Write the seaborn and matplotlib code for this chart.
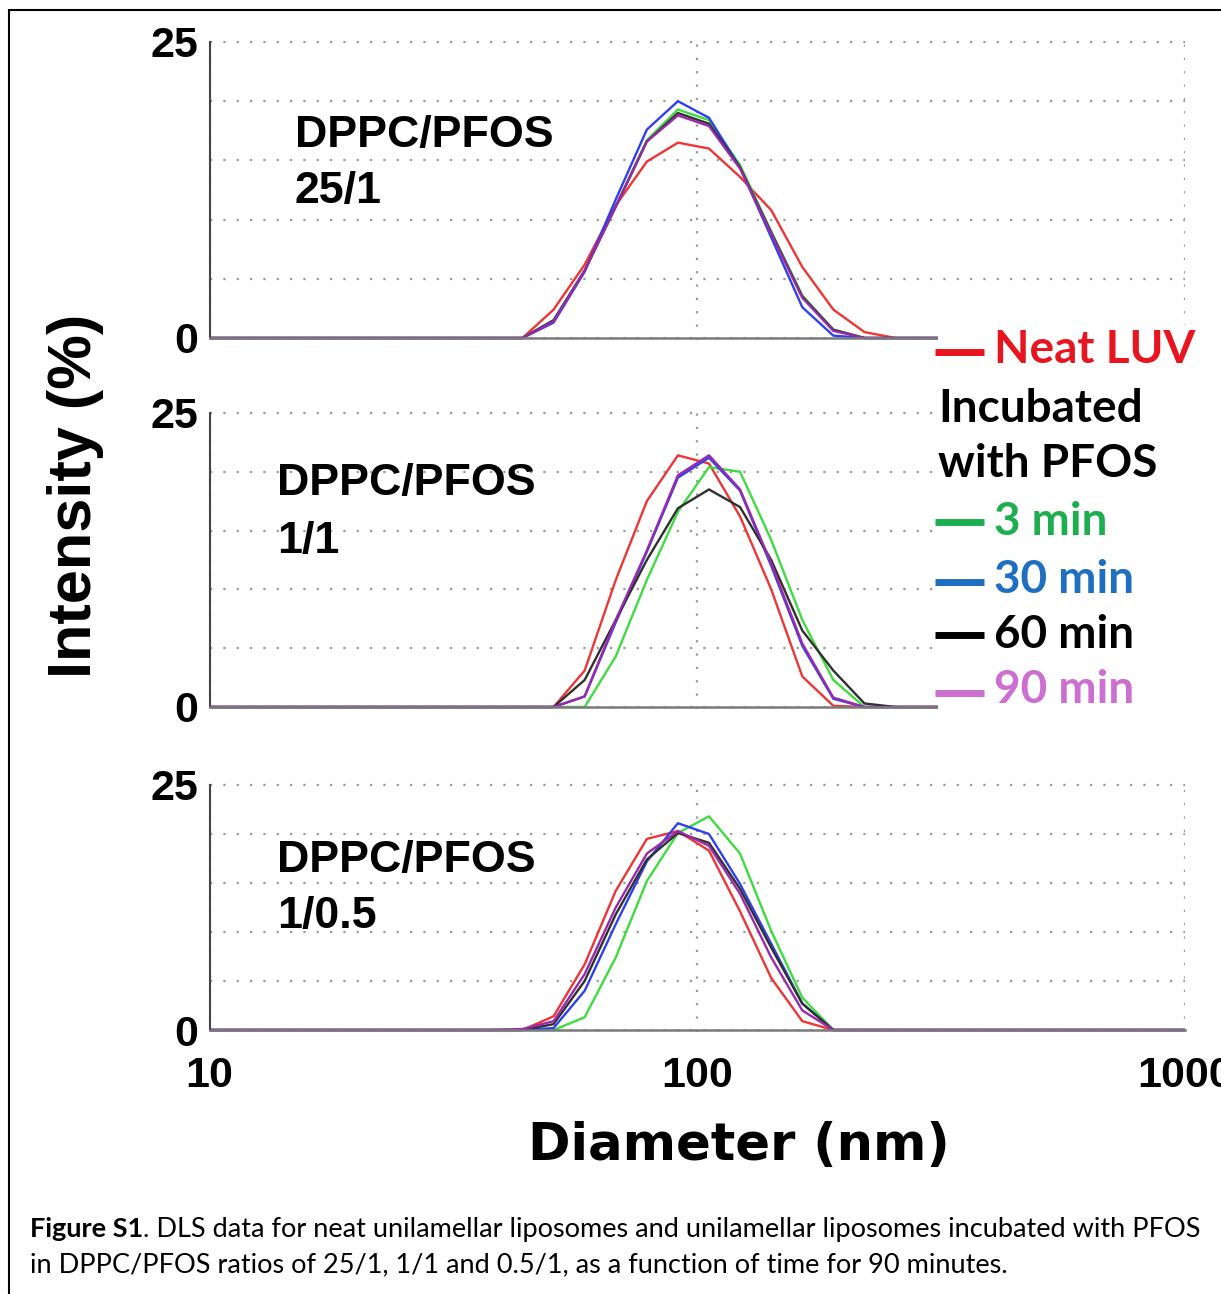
import numpy as np
import pandas as pd
import matplotlib
matplotlib.use("Agg")
import matplotlib.pyplot as plt
import seaborn as sns
from matplotlib.lines import Line2D
from matplotlib.patches import Rectangle
from matplotlib import font_manager as fm
from matplotlib.ticker import FixedLocator, NullFormatter

W, H, DPI = 1221, 1294, 100

# ---------------- data (DLS size bins, nm) ----------------
diameters = [8.721, 10.1, 11.7, 13.54, 15.69, 18.17, 21.04, 24.36, 28.21, 32.67,
             37.84, 43.82, 50.75, 58.77, 68.06, 78.82, 91.28, 105.7, 122.4, 141.8,
             164.2, 190.1, 220.2, 255.0, 295.3, 342.0, 396.1, 458.7, 531.2, 615.1,
             712.4, 825.0, 955.4, 1106.0]

series_names = ["Neat LUV", "3 min", "30 min", "60 min", "90 min"]

# DPPC/PFOS 25/1
top_neat  = [0,0,0,0,0,0,0,0,0,0,0, 0, 2.4, 6.2, 11.2, 14.9, 16.5, 16.0, 13.6, 10.8, 6.0, 2.4, 0.5, 0, 0,0,0,0,0,0,0,0,0,0]
top_3     = [0,0,0,0,0,0,0,0,0,0,0, 0, 1.5, 5.7, 11.1, 16.7, 19.3, 18.4, 14.6, 9.0, 3.6, 0.7, 0, 0, 0,0,0,0,0,0,0,0,0,0]
top_30    = [0,0,0,0,0,0,0,0,0,0,0, 0, 1.3, 5.6, 11.7, 17.6, 20.0, 18.6, 14.4, 8.5, 2.6, 0.2, 0, 0, 0,0,0,0,0,0,0,0,0,0]
top_60    = [0,0,0,0,0,0,0,0,0,0,0, 0, 1.5, 5.7, 11.1, 16.6, 19.0, 18.1, 14.4, 8.9, 3.5, 0.7, 0, 0, 0,0,0,0,0,0,0,0,0,0]
top_90    = [0,0,0,0,0,0,0,0,0,0,0, 0, 1.4, 5.7, 11.1, 16.6, 18.8, 17.9, 14.3, 8.8, 3.4, 0.6, 0, 0, 0,0,0,0,0,0,0,0,0,0]

# DPPC/PFOS 1/1
mid_neat  = [0,0,0,0,0,0,0,0,0,0,0, 0, 0, 3.1, 10.8, 17.5, 21.4, 20.7, 16.2, 10.0, 2.6, 0.1, 0, 0, 0,0,0,0,0,0,0,0,0,0]
mid_3     = [0,0,0,0,0,0,0,0,0,0,0, 0, 0, 0, 4.3, 10.8, 16.6, 20.4, 20.0, 14.2, 7.4, 2.3, 0, 0, 0,0,0,0,0,0,0,0,0,0]
mid_30    = [0,0,0,0,0,0,0,0,0,0,0, 0, 0, 0.9, 7.2, 13.2, 19.5, 21.2, 18.4, 12.0, 5.2, 0.7, 0, 0, 0,0,0,0,0,0,0,0,0,0]
mid_60    = [0,0,0,0,0,0,0,0,0,0,0, 0, 0, 2.3, 7.4, 12.5, 16.9, 18.5, 17.0, 12.5, 6.5, 3.1, 0.3, 0, 0,0,0,0,0,0,0,0,0,0]
mid_90    = [0,0,0,0,0,0,0,0,0,0,0, 0, 0, 0.9, 7.4, 13.3, 19.7, 21.4, 18.5, 12.2, 5.4, 0.8, 0, 0, 0,0,0,0,0,0,0,0,0,0]

# DPPC/PFOS 1/0.5
bot_neat  = [0,0,0,0,0,0,0,0,0,0,0, 0, 1.4, 6.7, 14.2, 19.5, 20.3, 18.3, 12.1, 5.3, 0.9, 0, 0, 0, 0,0,0,0,0,0,0,0,0,0]
bot_3     = [0,0,0,0,0,0,0,0,0,0,0, 0, 0, 1.3, 7.4, 15.2, 20.1, 21.8, 18.0, 10.1, 3.3, 0, 0, 0, 0,0,0,0,0,0,0,0,0,0]
bot_30    = [0,0,0,0,0,0,0,0,0,0,0, 0, 0.2, 4.0, 10.8, 17.2, 21.1, 20.0, 14.9, 8.8, 2.7, 0, 0, 0, 0,0,0,0,0,0,0,0,0,0]
bot_60    = [0,0,0,0,0,0,0,0,0,0,0, 0, 0.6, 5.0, 11.8, 17.4, 20.1, 19.1, 14.4, 8.4, 2.7, 0, 0, 0, 0,0,0,0,0,0,0,0,0,0]
bot_90    = [0,0,0,0,0,0,0,0,0,0,0, 0.1, 0.9, 5.7, 12.5, 18.0, 20.3, 18.8, 13.9, 7.4, 2.0, 0, 0, 0, 0,0,0,0,0,0,0,0,0,0]

panel_labels = [("DPPC/PFOS", "25/1"), ("DPPC/PFOS", "1/1"), ("DPPC/PFOS", "1/0.5")]
panel_series = [
    [top_neat, top_3, top_30, top_60, top_90],
    [mid_neat, mid_3, mid_30, mid_60, mid_90],
    [bot_neat, bot_3, bot_30, bot_60, bot_90],
]
y_tick_labels = ["0", "25"]
x_tick_labels = ["10", "100", "1000"]

# ---------------- style ----------------
sns.set_style("white")
plt.rcParams["font.family"] = ["Liberation Sans", "DejaVu Sans"]
plt.rcParams["text.color"] = "black"
plt.rcParams["xtick.labelcolor"] = "black"
plt.rcParams["ytick.labelcolor"] = "black"

line_colors = {"Neat LUV": "#ee3535", "3 min": "#3fdc3f", "30 min": "#3040f0",
               "60 min": "#303030", "90 min": "#9a2aac"}
legend_colors = {"Neat LUV": "#e8141e", "3 min": "#1fae4f", "30 min": "#1f6fc0",
                 "60 min": "#000000", "90 min": "#cc6fd0"}


def has_font(name):
    try:
        fm.findfont(fm.FontProperties(family=name), fallback_to_default=False)
        return True
    except Exception:
        return False


fig = plt.figure(figsize=(W / DPI, H / DPI), dpi=DPI)
fig.patch.set_facecolor("white")


def fx(px):
    return px / W


def fy(py):
    return 1 - py / H


panel_px = [(42, 338), (413, 707), (785, 1030)]
X0, X1 = 209.5, 1185
text_pos = [(295, 147, 203), (277, 495, 553), (277, 872, 928)]
grid_kw = dict(color="#9a9a9a", linestyle=(0, (1, 5)), linewidth=1.6)
PADV = 0.2

axes = []
for i, (ytop, ybot) in enumerate(panel_px):
    s = (ybot - ytop) / 25.0
    a_top = ytop - PADV * s
    a_bot = ybot + PADV * s
    ax = fig.add_axes([fx(X0), fy(a_bot), (X1 - X0) / W, (a_bot - a_top) / H])
    ax.set_xscale("log")
    rows = []
    for name, vals in zip(series_names, panel_series[i]):
        for d, v in zip(diameters, vals):
            rows.append((d, v, name))
    df = pd.DataFrame(rows, columns=["Diameter", "Intensity", "Series"])
    sns.lineplot(data=df, x="Diameter", y="Intensity", hue="Series",
                 hue_order=series_names, palette=line_colors, estimator=None,
                 sort=False, linewidth=1.7, legend=False, ax=ax)
    ax.set_xlim(10, 1000)
    ax.set_ylim(-PADV, 25 + PADV)
    ax.set_xlabel("")
    ax.set_ylabel("")
    for sp in ["top", "right"]:
        ax.spines[sp].set_visible(False)
    ax.spines["left"].set_color("#444444")
    ax.spines["left"].set_linewidth(1.5)
    ax.spines["left"].set_bounds(0, 25)
    ax.spines["bottom"].set_color("#7a7a7a")
    ax.spines["bottom"].set_linewidth(1.8)
    ax.spines["bottom"].set_position(("data", 0))
    # y ticks
    ax.yaxis.set_major_locator(FixedLocator([0, 5, 10, 15, 20, 25]))
    ax.set_yticklabels([y_tick_labels[0], "", "", "", "", y_tick_labels[1]])
    ax.yaxis.set_minor_locator(FixedLocator([2.5, 7.5, 12.5, 17.5, 22.5]))
    ax.tick_params(axis="y", which="both", direction="inout", length=8, width=1.4,
                   color="#333333", pad=4, labelsize=31, labelcolor="black")
    for lab in ax.get_yticklabels():
        lab.set_fontweight("bold")
    # x ticks
    ax.xaxis.set_major_locator(FixedLocator([10, 100, 1000]))
    ax.xaxis.set_minor_locator(FixedLocator([20, 30, 40, 50, 60, 70, 80, 90,
                                             200, 300, 400, 500, 600, 700, 800, 900]))
    ax.xaxis.set_minor_formatter(NullFormatter())
    ax.tick_params(axis="x", which="both", direction="inout", length=6, width=1.3,
                   color="#555555", pad=16, labelsize=31, labelcolor="black")
    if i == 2:
        ax.set_xticklabels(x_tick_labels)
        for lab in ax.get_xticklabels():
            lab.set_fontweight("bold")
    else:
        ax.tick_params(axis="x", labelbottom=False)
    ax.grid(False)
    ax.yaxis.grid(True, which="major", **grid_kw)
    ax.xaxis.grid(True, which="major", **grid_kw)
    ax.set_facecolor("white")
    axes.append(ax)

# panel annotations
ann = []
for (l1, l2), (xp, b1, b2) in zip(panel_labels, text_pos):
    t1 = fig.text(fx(xp), fy(b1), l1, fontsize=31, fontweight="bold", va="baseline",
                  ha="left", color="black")
    t2 = fig.text(fx(xp), fy(b2), l2, fontsize=31, fontweight="bold", va="baseline",
                  ha="left", color="black")
    ann += [t1, t2]

# axis titles
ylab = fig.text(fx(76), fy(496), "Intensity (%)", rotation=90, fontsize=44,
                fontweight="bold", ha="center", va="center", color="black")
xlab = fig.text(fx(739), fy(1160), "Diameter (nm)", fontsize=37, fontweight="bold",
                family=["DejaVu Sans"], ha="center", va="baseline", color="black")

# legend: white panel hiding right part of upper two plots
fig.add_artist(Rectangle((fx(938), fy(722)), (W - 938) / W + 0.01, (722 - 325) / H,
                         transform=fig.transFigure, facecolor="white", edgecolor="none",
                         zorder=5))
leg_font = ["Lato", "DejaVu Sans"] if has_font("Lato") else ["DejaVu Sans"]
# label, baseline y, dash y, has dash, target width (px)
leg_entries = [("Neat LUV", 363, 352, True, 194), ("Incubated", 422, None, False, 215),
               ("with PFOS", 477, None, False, 217), ("3 min", 535, 522, True, 114),
               ("30 min", 593, 582, True, 139), ("60 min", 648, 635, True, 140),
               ("90 min", 703, 693, True, 140)]
leg_texts = []
for label, base, dash_y, has_dash, tw in leg_entries:
    if has_dash:
        col = legend_colors[label]
        fig.add_artist(Line2D([fx(935), fx(984)], [fy(dash_y), fy(dash_y)],
                              transform=fig.transFigure, color=col, linewidth=5,
                              solid_capstyle="butt", zorder=6))
        t = fig.text(fx(994), fy(base), label, color=col, fontsize=28,
                     fontweight="bold", family=leg_font, va="baseline", ha="left", zorder=6)
    else:
        t = fig.text(fx(938), fy(base), label, color="black", fontsize=28,
                     fontweight="bold", family=leg_font, va="baseline", ha="left", zorder=6)
    leg_texts.append((t, tw))

# caption
cap_family = ["Liberation Sans Narrow", "DejaVu Sans"] if has_font("Liberation Sans Narrow") else ["Lato", "DejaVu Sans"]
c1a = fig.text(fx(30), fy(1237), "Figure S1", fontsize=18, fontweight="bold",
               family=cap_family, va="baseline", ha="left", color="black")
c1b = fig.text(fx(120), fy(1237),
               ". DLS data for neat unilamellar liposomes and unilamellar liposomes incubated with PFOS",
               fontsize=18, family=cap_family, va="baseline", ha="left", color="black")
c2 = fig.text(fx(30), fy(1272),
              "in DPPC/PFOS ratios of 25/1, 1/1 and 0.5/1, as a function of time for 90 minutes.",
              fontsize=18, family=cap_family, va="baseline", ha="left", color="black")

# frame around figure
fig.add_artist(Rectangle((fx(9), -0.1), 2.0, (1 - 10 / H) + 0.1, transform=fig.transFigure,
                         fill=False, edgecolor="black", linewidth=1.5, zorder=10))

# ---- fit text widths to the reference ----
fig.canvas.draw()
r = fig.canvas.get_renderer()


def width(t):
    return t.get_window_extent(r).width


def scale(t, target):
    t.set_fontsize(t.get_fontsize() * target / width(t))


f = 258 / width(ann[0])
for t in ann:
    t.set_fontsize(t.get_fontsize() * f)
# legend: average scale so all entries share one size
fs = [tw / width(t) for t, tw in leg_texts]
f = float(np.mean(fs))
for t, tw in leg_texts:
    t.set_fontsize(t.get_fontsize() * f)
h = ylab.get_window_extent(r).height
ylab.set_fontsize(ylab.get_fontsize() * 365 / h)
scale(xlab, 422)
for _ in range(2):
    tot = width(c1a) + width(c1b)
    f = 1170 / tot
    for t in (c1a, c1b, c2):
        t.set_fontsize(t.get_fontsize() * f)
    fig.canvas.draw()
    c1b.set_x(fx(30 + width(c1a)))
fig.canvas.draw()

fig.savefig("out.png", dpi=DPI, facecolor="white")
